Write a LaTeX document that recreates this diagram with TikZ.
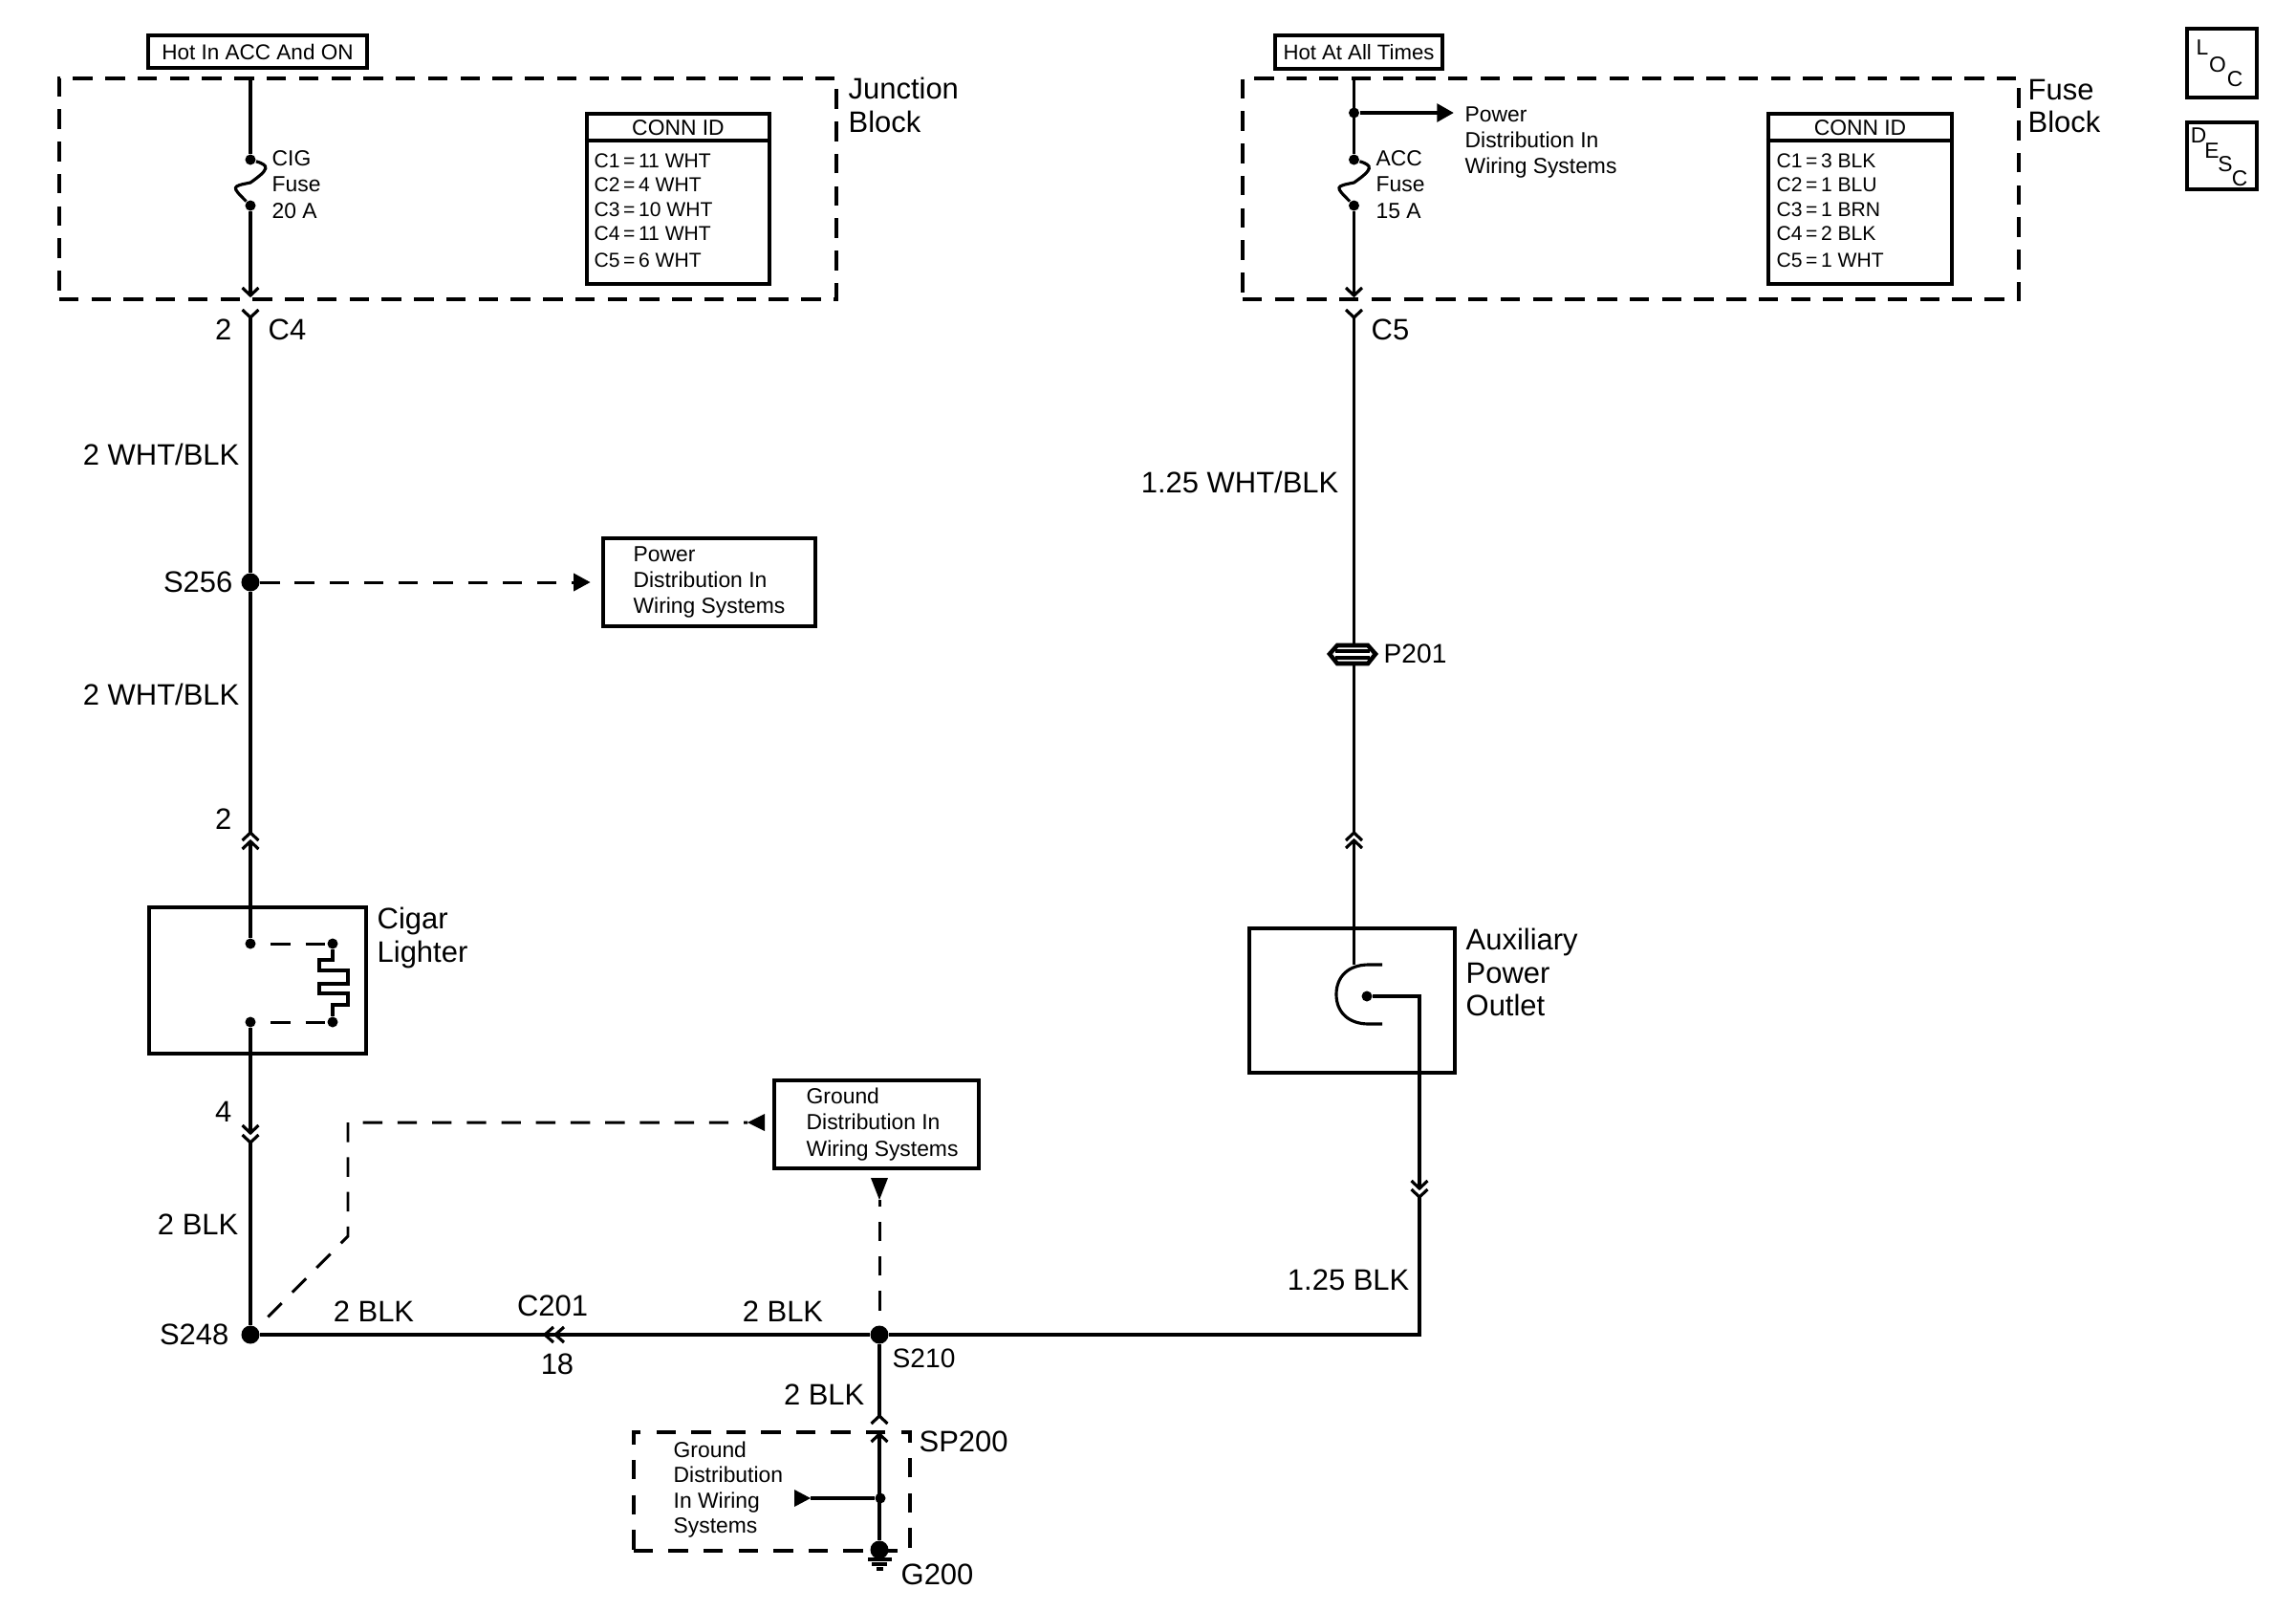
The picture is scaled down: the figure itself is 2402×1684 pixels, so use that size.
\documentclass[tikz,border=0pt]{standalone}
\usepackage{fontspec}
\setmainfont{Liberation Sans}
\usetikzlibrary{arrows.meta,calc}
\begin{document}
\begin{tikzpicture}[x=0.01cm,y=-0.01cm]
		\tikzstyle{wire} = [line width=0.9pt,black];
		\tikzstyle{heavy} = [line width=1.3pt,black];
		\tikzstyle{tirets} = [line width=0.85pt,black,dash pattern=on 5.8pt off 4.5pt];
		\tikzstyle{boite} = [draw,line width=1.3pt,inner sep=0pt,rectangle,align=left];
		\tikzstyle{zone} = [draw,line width=1.2pt,inner sep=0pt,rectangle,dash pattern=on 5.8pt off 3.8pt];
		\tikzstyle{dot} = [fill,circle,inner sep=0pt,minimum size=0.11cm];
		\tikzstyle{bigdot} = [fill,circle,inner sep=0pt,minimum size=0.19cm];
		\tikzstyle{petit} = [inner sep=0pt,align=left,font=\fontsize{6.5}{7.8}\selectfont];
		\tikzstyle{ligne} = [inner sep=0pt,font=\fontsize{6}{7.2}\selectfont];
		\tikzstyle{grand} = [inner sep=0pt,align=left,font=\fontsize{8.8}{9.8}\selectfont];
		\tikzstyle{serre} = [inner sep=0pt,align=left,font=\fontsize{8}{9.8}\selectfont];
		
		\useasboundingbox (0,0) rectangle (2402,1684);
		
		% blocks and boxes
		\node[zone,minimum width=8.13cm,minimum height=2.31cm] (jb) at (468.5,197.5) {};
		\node[zone,minimum width=8.12cm,minimum height=2.31cm] (fb) at (1706,197.5) {};
		\node[boite,minimum width=2.29cm,minimum height=0.34cm,font=\fontsize{6.4}{8}\selectfont] (hotacc) at (269.5,54) {Hot In ACC And ON};
		\node[boite,minimum width=1.75cm,minimum height=0.35cm,font=\fontsize{6.3}{8}\selectfont] (hotall) at (1421.5,54.5) {Hot At All Times};
		\node[boite,minimum width=2.22cm,minimum height=0.92cm,font=\fontsize{6.5}{7.8}\selectfont] (pdist) at (742,609) {Power\\Distribution In\\Wiring Systems};
		\node[boite,minimum width=2.14cm,minimum height=0.92cm] (gdist) at (917,1176) {};
		\node[boite,minimum width=2.27cm,minimum height=1.53cm] (cigar) at (269.5,1025.5) {};
		\node[boite,minimum width=2.15cm,minimum height=1.51cm] (outlet) at (1414.5,1046.5) {};
		\node[zone,line width=1.1pt,dash pattern=on 5.8pt off 4.6pt,minimum width=2.89cm,minimum height=1.24cm] (spz) at (807.5,1560) {};
		\node[boite,minimum width=1.91cm,minimum height=1.78cm] (idj) at (709.5,208) {};
		\node[boite,minimum width=1.92cm,minimum height=1.78cm] (idf) at (1946,208) {};
		\node[boite,minimum width=0.73cm,minimum height=0.72cm] (loc) at (2324.5,66) {};
		\node[boite,minimum width=0.73cm,minimum height=0.70cm] (desc) at (2324.5,163) {};
		
		% splices and terminals
		\node[dot] (cfa) at (262,167) {};
		\node[dot] (cfb) at (262,215) {};
		\node[dot] (afa) at (1416.5,167) {};
		\node[dot] (afb) at (1416.5,215) {};
		\node[dot] (ptap) at (1416.5,118) {};
		\node[bigdot] (s256) at (262,609) {};
		\node[dot] (la) at (262,987) {};
		\node[dot] (lb) at (348,987) {};
		\node[dot] (lc) at (262,1069) {};
		\node[dot] (ld) at (348,1069) {};
		\node[bigdot] (s248) at (262,1396) {};
		\node[bigdot] (s210) at (920,1396) {};
		\node[dot] (gtap) at (921,1567) {};
		\node[bigdot] (g200) at (920,1621) {};
		\node[dot] (ojack) at (1430,1042) {};
		
		\coordinate (jbin) at (262,82);
		\coordinate (fbin) at (1416.5,82);
		\coordinate (c4a) at (262,309);
		\coordinate (c4b) at (262,332);
		\coordinate (c5a) at (1416.5,309);
		\coordinate (c5b) at (1416.5,332);
		\coordinate (lta) at (262,871);
		\coordinate (ltb) at (262,880);
		\coordinate (lba) at (262,1185);
		\coordinate (lbb) at (262,1195);
		\coordinate (ota) at (1416.5,871);
		\coordinate (otb) at (1416.5,879);
		\coordinate (opl) at (1416.5,1009);
		\coordinate (oba) at (1485,1243);
		\coordinate (obb) at (1485,1252);
		\coordinate (ocr) at (1485,1042);
		\coordinate (ogd) at (1485,1396);
		\coordinate (spa) at (920,1481);
		\coordinate (spb) at (920,1500);
		\coordinate (gtipa) at (782,1174);
		\coordinate (gtipb) at (920,1255);
		\coordinate (gtipc) at (848,1567);
		
		% wires
		\draw[wire] (jbin) -- (cfa);
		\draw[wire] (cfb) -- (c4a);
		\draw[wire] (c4b) -- (s256) -- (lta);
		\draw[wire] (ltb) -- (la);
		\draw[wire] (lc) -- (lba);
		\draw[wire] (lbb) -- (s248);
		\draw[wire] (s248) -- (s210) -- (ogd) -- (obb);
		\draw[wire] (oba) -- (ocr) -- (ojack);
		\draw[wire] (fbin) -- (afa);
		\draw[wire] (afb) -- (c5a);
		\draw[wire] (c5b) -- (ota);
		\draw[wire] (otb) -- (opl);
		\draw[wire] (s210) -- (spa);
		\draw[wire] (spb) -- (g200);
		\draw[heavy,-{Triangle[length=5pt,width=5.2pt]}] (ptap) -- (1521,118);
		\draw[wire] (gtap) -- (gtipc);
		\fill (gtipc) -- ++(-17,-9) -- ++(0,18) -- cycle;
		
		% dashed links
		\draw[tirets,-{Triangle[length=5pt,width=5.2pt]},shorten >=0.11cm] (s256) -- (pdist.west);
		\draw[tirets,dash phase=5.8pt] (s248) -- (364,1293) -- (364,1174) -- (gtipa);
		\draw[tirets,dash phase=6pt] (s210) -- (gtipb);
		\draw[tirets,dash phase=6pt] (la) -- (lb);
		\draw[tirets,dash phase=6pt] (lc) -- (ld);
		\fill (gtipa) -- ++(18,-9) -- ++(0,18) -- cycle;
		\fill (gtipb) -- ++(-9,-23) -- ++(18,0) -- cycle;
		
		% connector chevrons
		\foreach \x/\y in {262/309,262/332,1416.5/309,1416.5/332,262/1185,262/1195,1485/1243,1485/1252}{
			\draw[wire] (\x-8.5,\y-8) -- (\x,\y) -- (\x+8.5,\y-8);
		}
		\foreach \x/\y in {262/871,262/880,1416.5/871,1416.5/879,920/1481,920/1500}{
			\draw[wire] (\x-8.5,\y+8) -- (\x,\y) -- (\x+8.5,\y+8);
		}
		\foreach \x in {570,581}{
			\draw[wire] (\x+9,1388) -- (\x,1396) -- (\x+9,1404);
		}
		
		% fuses
		\foreach \a/\b in {cfa/cfb,afa/afb}{
			\draw[wire] (\a) .. controls +(20,6) and +(20,-14) .. ($(\a)!0.5!(\b)$) .. controls +(-20,4) and +(-20,-20) .. (\b);
		}
		
		% lighter element
		\draw[wire] (lb) -- (348,1004) -- (334,1004) -- (334,1015) -- (364,1015) -- (364,1029) -- (334,1029) -- (334,1039) -- (364,1039) -- (364,1051) -- (348,1051) -- (ld);
		
		% outlet and inline connector
		\draw[wire] (1446,1009) -- (1432,1009) .. controls (1410,1009) and (1398,1022) .. (1398,1040) .. controls (1398,1058) and (1410,1071) .. (1432,1071) -- (1446,1071);
		\filldraw[heavy,fill=white] (1391,684) -- (1399,675) -- (1431,675) -- (1439,684) -- (1431,694) -- (1399,694) -- cycle;
		\draw[wire] (1397,681) -- (1433,681);
		\draw[wire] (1397,688) -- (1433,688);
		
		% ground
		\draw[wire] (908,1631) -- (933,1631);
		\draw[wire] (912,1636) -- (928,1636);
		\draw[wire] (917,1641) -- (924,1641);
		
		% table headers
		\draw[wire] (idj.west |- 0,147) -- (idj.east |- 0,147);
		\draw[wire] (idf.west |- 0,147) -- (idf.east |- 0,147);
		\node[petit,anchor=center] (idjh) at (709.5,134) {CONN ID};
		\node[petit,anchor=center] (idfh) at (1946,134) {CONN ID};
		\foreach \c/\t/\y in {1/11 WHT/168,2/4 WHT/193,3/10 WHT/219,4/11 WHT/244,5/6 WHT/272}{
			\node[ligne,anchor=west] (idj\c) at (621,\y) {C\c\,=\,\t};
		}
		\foreach \c/\t/\y in {1/3 BLK/168,2/1 BLU/193,3/1 BRN/219,4/2 BLK/244,5/1 WHT/272}{
			\node[ligne,anchor=west] (idf\c) at (1858,\y) {C\c\,=\,\t};
		}
		
		% small letters of the two tabs
		\foreach \n/\t/\x/\y in {la/L/2304/50,lb/O/2320/68,lc/C/2338/83,da/D/2300/142,db/E/2314/158,dc/S/2328/172,dd/C/2343/187}{
			\node[petit] (tab\n) at (\x,\y) {\t};
		}
		
		% labels
		\node[grand,anchor=west] (jblab) at (887,110) {Junction\\Block};
		\node[grand,anchor=west] (fblab) at (2121,111) {Fuse\\Block};
		\node[petit,anchor=west] (ciglab) at (284,193) {CIG\\Fuse\\20 A};
		\node[petit,anchor=west] (acclab) at (1439,193) {ACC\\Fuse\\15 A};
		\node[petit,anchor=west] (plab) at (1532,149) {Power\\Distribution In\\Wiring Systems};
		\node[petit,anchor=west] (gdlab) at (843,1176) {Ground\\Distribution In\\Wiring Systems};
		\node[grand,anchor=east] (n2a) at (243,345) {2};
		\node[grand,anchor=west] (c4l) at (280,345) {C4};
		\node[grand,anchor=west] (c5l) at (1434,345) {C5};
		\node[grand,anchor=east] (wba) at (251,475) {2 WHT/BLK};
		\node[grand,anchor=east] (s256l) at (244,609) {S256};
		\node[grand,anchor=east] (wbb) at (251,726) {2 WHT/BLK};
		\node[grand,anchor=east] (n2b) at (243,857) {2};
		\node[grand,anchor=west] (ciglb) at (394,981) {Cigar\\Lighter};
		\node[grand,anchor=east] (n4) at (243,1163) {4};
		\node[grand,anchor=east] (blka) at (250,1281) {2 BLK};
		\node[grand,anchor=east] (s248l) at (240,1396) {S248};
		\node[grand] (blkb) at (391,1372) {2 BLK};
		\node[grand] (c201) at (578,1366) {C201};
		\node[grand] (n18) at (583,1427) {18};
		\node[grand] (blkc) at (819,1372) {2 BLK};
		\node[serre,anchor=west] (s210l) at (933,1421) {S210};
		\node[grand,anchor=east] (blkd) at (905,1459) {2 BLK};
		\node[grand,anchor=west] (sp200) at (961,1508) {SP200};
		\node[petit,anchor=west,font=\fontsize{6.5}{7.5}\selectfont] (gdl) at (704,1558) {Ground\\Distribution\\In Wiring\\Systems};
		\node[grand,anchor=west] (g200l) at (942,1647) {G200};
		\node[grand,anchor=east] (wbc) at (1401,504) {1.25 WHT/BLK};
		\node[serre,anchor=west] (p201) at (1447,684) {P201};
		\node[grand,anchor=west] (auxl) at (1533,1017) {Auxiliary\\Power\\Outlet};
		\node[grand,anchor=east] (blke) at (1475,1339) {1.25 BLK};
		
	\end{tikzpicture}
\end{document}
